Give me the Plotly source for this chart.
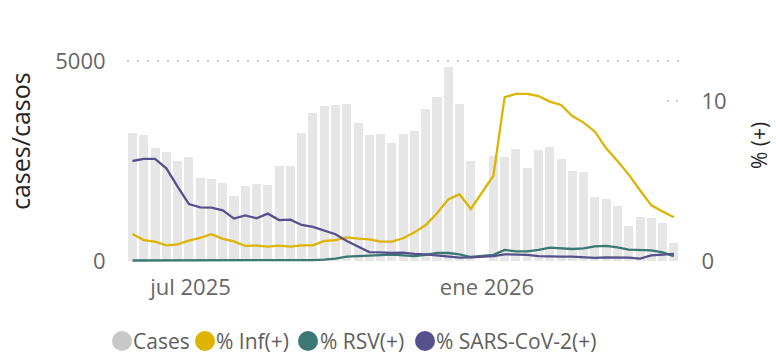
import plotly.graph_objects as go

# Weekly surveillance data (week of 2025-12-29 not reported)
weeks = [
    "2025-05-26", "2025-06-02", "2025-06-09", "2025-06-16", "2025-06-23", "2025-06-30",
    "2025-07-07", "2025-07-14", "2025-07-21", "2025-07-28", "2025-08-04", "2025-08-11",
    "2025-08-18", "2025-08-25", "2025-09-01", "2025-09-08", "2025-09-15", "2025-09-22",
    "2025-09-29", "2025-10-06", "2025-10-13", "2025-10-20", "2025-10-27", "2025-11-03",
    "2025-11-10", "2025-11-17", "2025-11-24", "2025-12-01", "2025-12-08", "2025-12-15",
    "2025-12-22",
    "2026-01-05", "2026-01-12", "2026-01-19", "2026-01-26", "2026-02-02", "2026-02-09",
    "2026-02-16", "2026-02-23", "2026-03-02", "2026-03-09", "2026-03-16", "2026-03-23",
    "2026-03-30", "2026-04-06", "2026-04-13", "2026-04-20", "2026-04-27",
]

cases = [
    3200, 3150, 2825, 2725, 2500, 2600, 2075, 2050, 1950, 1625,
    1875, 1925, 1900, 2375, 2375, 3200, 3700, 3875, 3900, 3925,
    3450, 3150, 3175, 2950, 3175, 3250, 3800, 4100, 4850, 3925,
    2500,
    2625, 2600, 2800, 2325, 2775, 2850, 2550, 2250, 2225, 1600,
    1550, 1375, 875, 1100, 1075, 950, 450,
]

pct_inf = [
    1.69, 1.31, 1.21, 0.98, 1.04, 1.27, 1.44, 1.67, 1.38, 1.23,
    0.94, 0.96, 0.90, 0.96, 0.90, 0.98, 0.98, 1.25, 1.31, 1.48,
    1.40, 1.35, 1.21, 1.21, 1.42, 1.79, 2.25, 2.98, 3.85, 4.17,
    3.25,
    5.33, 10.24, 10.44, 10.44, 10.31, 9.96, 9.75, 9.06, 8.65, 8.08,
    7.04, 6.25, 5.40, 4.42, 3.48, 3.10, 2.73,
]

pct_rsv = [
    0.03, 0.03, 0.02, 0.03, 0.03, 0.02, 0.03, 0.03, 0.02, 0.03,
    0.03, 0.03, 0.04, 0.04, 0.04, 0.05, 0.06, 0.08, 0.15, 0.27,
    0.31, 0.35, 0.38, 0.40, 0.35, 0.31, 0.38, 0.50, 0.50, 0.42,
    0.25,
    0.38, 0.69, 0.60, 0.60, 0.69, 0.83, 0.77, 0.75, 0.79, 0.92,
    0.94, 0.85, 0.71, 0.71, 0.67, 0.54, 0.31,
]

pct_sars = [
    6.25, 6.38, 6.38, 5.79, 4.65, 3.56, 3.35, 3.33, 3.17, 2.65,
    2.85, 2.67, 2.96, 2.56, 2.58, 2.25, 2.13, 1.88, 1.67, 1.25,
    0.90, 0.56, 0.54, 0.50, 0.52, 0.44, 0.42, 0.35, 0.27, 0.21,
    0.23,
    0.31, 0.42, 0.42, 0.38, 0.31, 0.27, 0.27, 0.27, 0.21, 0.19,
    0.23, 0.23, 0.21, 0.15, 0.35, 0.40, 0.44,
]

legend_names = ["Cases", "% Inf(+)", "% RSV(+)", "% SARS-CoV-2(+)"]
x_tick_vals = ["2025-07-01", "2026-01-01"]
x_tick_text = ["jul 2025", "ene 2026"]

# Styling
FONT = "Segoe UI, Open Sans, sans-serif"
BAR_COLOR = "#E6E6E6"
LINE_COLORS = ["#DDB400", "#3B7873", "#56518C"]
LEGEND_COLORS = ["#C8C8C8", "#DDB400", "#3B7873", "#56518C"]
TICK_COLOR = "#666666"
WEEK_MS = 7 * 24 * 3600 * 1000

W, H = 776, 354
ML, MR, MT, MB = 127, 97, 55, 92
PW, PH = W - ML - MR, H - MT - MB


def px_x(px):
    return (px - ML) / PW


def px_y(py):
    return (H - MB - py) / PH


fig = go.Figure()

fig.add_trace(go.Bar(
    x=weeks, y=cases, name=legend_names[0],
    marker=dict(color=BAR_COLOR, line=dict(width=0)),
    width=0.8 * WEEK_MS, yaxis="y", showlegend=False,
))

for name, vals, color in zip(legend_names[1:], [pct_inf, pct_rsv, pct_sars], LINE_COLORS):
    fig.add_trace(go.Scatter(
        x=weeks, y=vals, name=name, mode="lines",
        line=dict(color=color, width=2.3), yaxis="y2", showlegend=False,
    ))

fig.update_layout(
    width=W, height=H,
    margin=dict(l=ML, r=MR, t=MT, b=MB, pad=0),
    paper_bgcolor="white", plot_bgcolor="white",
    font=dict(family=FONT, color=TICK_COLOR),
    bargap=0,
    xaxis=dict(
        type="date",
        range=["2025-05-22 14:10", "2026-04-30 04:48"],
        tickmode="array", tickvals=x_tick_vals, ticktext=x_tick_text,
        showgrid=False, zeroline=False, showline=False,
        ticks="outside", ticklen=6, tickcolor="rgba(0,0,0,0)",
        tickfont=dict(size=22, color=TICK_COLOR),
    ),
    yaxis=dict(
        range=[-25, 5150],
        tickmode="array", tickvals=[0, 5000],
        showgrid=True, gridcolor="#C8C8C8", gridwidth=2, griddash="2px,8px",
        zeroline=False, showline=False,
        ticks="outside", ticklen=16, tickcolor="rgba(0,0,0,0)",
        tickfont=dict(size=22, color=TICK_COLOR),
    ),
    yaxis2=dict(
        overlaying="y", side="right",
        range=[-0.0625, 12.875],
        tickmode="array", tickvals=[0, 10],
        showgrid=False, zeroline=False, showline=False,
        ticks="outside", ticklen=17, tickcolor="rgba(0,0,0,0)",
        tickfont=dict(size=22, color=TICK_COLOR),
    ),
)

# Short dotted guide at the right-axis 10% mark
fig.add_shape(
    type="line", xref="paper", yref="y2",
    x0=px_x(667), x1=px_x(680), y0=10, y1=10,
    line=dict(color="#C8C8C8", width=2, dash="2px,7px"),
)

# Axis titles
fig.add_annotation(
    text="cases/casos", xref="paper", yref="paper",
    x=px_x(20), y=px_y(141), xanchor="center", yanchor="middle",
    textangle=-90, showarrow=False,
    font=dict(family=FONT, size=25, color="#252423"),
)
fig.add_annotation(
    text="% (+)", xref="paper", yref="paper",
    x=px_x(759), y=px_y(146), xanchor="center", yanchor="middle",
    textangle=-90, showarrow=False, borderpad=0,
    font=dict(family=FONT, size=21, color="#252423"),
)

# Legend row: circular markers with labels
marker_px = [122, 205, 308, 425]
label_px = [132, 215, 319, 435]
for name, color, mx, lx in zip(legend_names, LEGEND_COLORS, marker_px, label_px):
    fig.add_shape(
        type="circle", xref="paper", yref="paper",
        xsizemode="pixel", ysizemode="pixel",
        xanchor=px_x(mx), yanchor=px_y(341),
        x0=-10, x1=10, y0=-10, y1=10,
        fillcolor=color, line=dict(width=0),
    )
    fig.add_annotation(
        text=name, xref="paper", yref="paper",
        x=px_x(lx), y=px_y(341), xanchor="left", yanchor="middle",
        showarrow=False, borderpad=0,
        font=dict(family=FONT, size=21, color="#605E5C"),
    )

fig.write_html("out.html")
